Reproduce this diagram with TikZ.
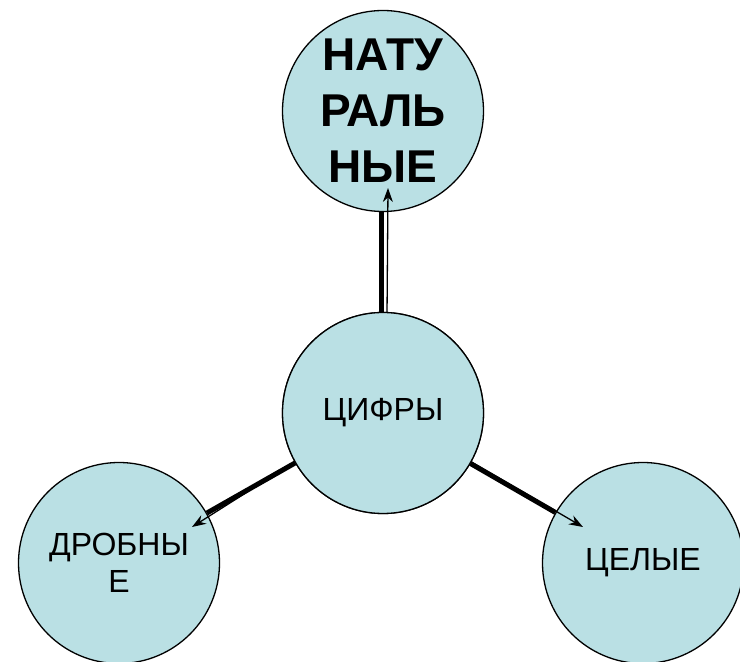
\documentclass[tikz,border=0pt]{standalone}
\usepackage{fontspec}
\setmainfont{Liberation Sans}
\usetikzlibrary{arrows.meta}
\definecolor{bubble}{RGB}{186,224,228}
\begin{document}
\begin{tikzpicture}[x=1pt,y=1pt,
  bubble/.style={circle,draw=black,line width=1.3pt,fill=bubble,minimum size=201pt,inner sep=0pt,align=center},
  plain/.style={font=\fontsize{32}{37}\selectfont},
  heavy/.style={line width=5pt},
  pointer/.style={line width=1.3pt,-{Stealth[length=14pt,width=10pt]}}]
\useasboundingbox (0,0) rectangle (740,662);
\node[bubble,font=\bfseries\fontsize{46}{56}\selectfont] (t) at (383,551) {НАТУ\\РАЛЬ\\НЫЕ};
\node[bubble,plain] (c) at (383,249) {ЦИФРЫ};
\node[bubble,plain] (l) at (119,99) {ДРОБНЫ\\Е};
\node[bubble,plain] (r) at (643,99) {ЦЕЛЫЕ};
\coordinate (ta) at (388,474);
\coordinate (la) at (192,135);
\coordinate (ra) at (583,135);
\draw[heavy] ([xshift=-2pt]c.north) -- ([xshift=-2pt]t.south);
\draw[pointer] ([xshift=4pt,yshift=-4pt]c.north) -- (ta);
\draw[heavy] (c) -- (l);
\draw[pointer] (c.209) -- (la);
\draw[heavy] (c) -- (r);
\draw[pointer] (c.-29) -- (ra);
\node[bubble,plain] at (c) {ЦИФРЫ};
\end{tikzpicture}
\end{document}
